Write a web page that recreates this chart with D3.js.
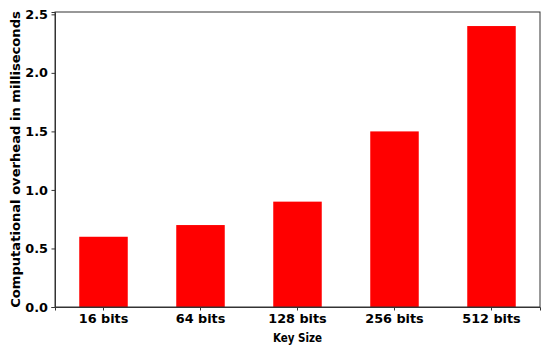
<!DOCTYPE html>
<html>
<head>
<meta charset="utf-8">
<script src="https://cdn.jsdelivr.net/npm/d3@7"></script>
<style>
  body { margin: 0; background: #fff; }
  svg { display: block; }
  .tick text { font-family: "DejaVu Sans", sans-serif; font-weight: bold; font-size: 12.8px; fill: #000; }
  .domain, .tick line { stroke: #333; }
</style>
</head>
<body>
<div id="graph"></div>
<script>
// chart data
const keySizes = ["16 bits", "64 bits", "128 bits", "256 bits", "512 bits"];
const overheadMs = [0.6, 0.7, 0.9, 1.5, 2.4];
const yTicks = [0.0, 0.5, 1.0, 1.5, 2.0, 2.5];

let width = 550, height = 348;
let margin = {top: 12, right: 10, bottom: 41, left: 55};

let svg = d3.select("#graph").append("svg")
    .attr("width", width)
    .attr("height", height);

let x = d3.scaleBand()
    .domain(keySizes)
    .range([margin.left, width - margin.right])
    .paddingInner(0.5)
    .paddingOuter(0.25);

let y = d3.scaleLinear()
    .domain([0, 2.52])
    .range([height - margin.bottom, margin.top]);

// bars
svg.selectAll("rect.bar")
    .data(overheadMs)
    .enter().append("rect")
    .attr("class", "bar")
    .attr("x", (d, i) => x(keySizes[i]))
    .attr("width", x.bandwidth())
    .attr("y", d => y(d))
    .attr("height", d => y(0) - y(d))
    .attr("fill", "#ff0000");

// frame
svg.append("rect")
    .attr("x", margin.left)
    .attr("y", margin.top)
    .attr("width", width - margin.left - margin.right)
    .attr("height", height - margin.top - margin.bottom)
    .attr("fill", "none")
    .attr("stroke", "#333")
    .attr("stroke-width", 1);

// x axis
svg.append("g")
    .attr("transform", "translate(0," + (height - margin.bottom) + ")")
    .call(d3.axisBottom(x).tickSize(3.5).tickPadding(3.5));

// y axis
svg.append("g")
    .attr("transform", "translate(" + margin.left + ",0)")
    .call(d3.axisLeft(y).tickValues(yTicks).tickFormat(d3.format(".1f")).tickSize(3.5).tickPadding(3.5));

// axis labels
svg.append("text")
    .attr("x", x("128 bits") + x.bandwidth() / 2)
    .attr("y", 342)
    .attr("text-anchor", "middle")
    .style("font-family", "'DejaVu Sans Condensed', 'DejaVu Sans', sans-serif")
    .style("font-stretch", "condensed")
    .style("font-weight", "bold")
    .style("font-size", "11.5px")
    .text("Key Size");

svg.append("text")
    .attr("transform", "translate(20," + (margin.top + (height - margin.bottom - margin.top) / 2) + ") rotate(-90)")
    .attr("text-anchor", "middle")
    .style("font-family", "'DejaVu Sans', sans-serif")
    .style("font-weight", "bold")
    .style("font-size", "13.1px")
    .text("Computational overhead in milliseconds");
</script>
</body>
</html>
